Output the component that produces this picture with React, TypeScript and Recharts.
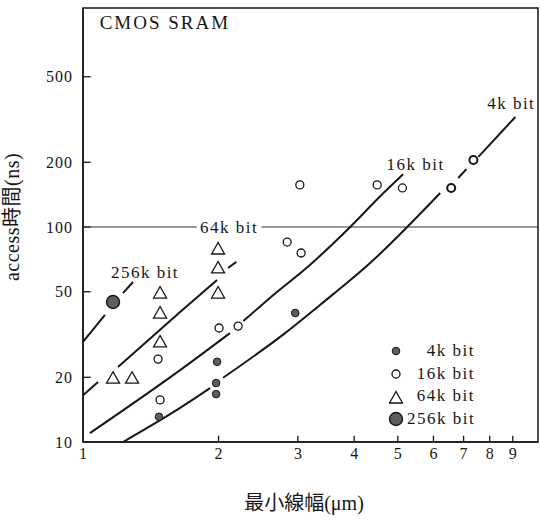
import {
  ComposedChart,
  Line,
  Scatter,
  XAxis,
  YAxis,
  ReferenceLine,
  ReferenceArea,
  ReferenceDot,
} from "recharts"

// axes (log-log): line width in µm, access time in ns
const xTicks = [1, 2, 3, 4, 5, 6, 7, 8, 9]
const yTicks = [10, 20, 50, 100, 200, 500]
const xDomain = [1, 10.24]
const yDomain = [10, 1044]

// measured points
const dots4k = [
  { x: 1.475, y: 13.1 },
  { x: 1.985, y: 23.6 },
  { x: 1.975, y: 18.8 },
  { x: 1.975, y: 16.7 },
  { x: 2.96, y: 39.8 },
]
const circles16k = [
  { x: 1.468, y: 24.3 },
  { x: 1.483, y: 15.7 },
  { x: 2.005, y: 33.9 },
  { x: 2.21, y: 34.6 },
  { x: 2.84, y: 85.1 },
  { x: 3.05, y: 75.7 },
  { x: 3.03, y: 157 },
  { x: 4.5, y: 157 },
  { x: 5.12, y: 152 },
]
// open circles sitting on the 4k trend line
const circles4kOpen = [
  { x: 6.57, y: 152 },
  { x: 7.36, y: 205 },
]
const triangles64k = [
  { x: 1.166, y: 19.8 },
  { x: 1.285, y: 19.8 },
  { x: 1.483, y: 29.2 },
  { x: 1.483, y: 39.8 },
  { x: 1.483, y: 49.3 },
  { x: 1.995, y: 49.3 },
  { x: 1.995, y: 64.5 },
  { x: 1.995, y: 79.0 },
]
const dots256k = [{ x: 1.166, y: 44.8 }]

// hand-drawn trend curves, split where the drawing leaves gaps
const curve4kA = [
  { x: 1.227, y: 10 },
  { x: 1.643, y: 14.4 },
  { x: 1.915, y: 17.8 },
]
const curve4kB = [
  { x: 2.047, y: 19.9 },
  { x: 2.81, y: 32.1 },
  { x: 3.36, y: 43.4 },
  { x: 4.34, y: 68.0 },
  { x: 6.21, y: 144 },
]
const curve4kC = [
  { x: 6.81, y: 169 },
  { x: 7.1, y: 186 },
]
const curve4kD = [
  { x: 7.55, y: 212 },
  { x: 9.12, y: 325 },
]
const curve16kA = [
  { x: 1.036, y: 11.0 },
  { x: 1.643, y: 21.6 },
  { x: 2.12, y: 32.1 },
]
const curve16kB = [
  { x: 2.27, y: 36.5 },
  { x: 2.6, y: 46.8 },
  { x: 3.19, y: 66.6 },
  { x: 3.92, y: 100 },
  { x: 4.57, y: 139 },
  { x: 5.14, y: 176 },
]
const curve64kA = [
  { x: 1.0, y: 16.5 },
  { x: 1.08, y: 19.0 },
]
const curve64kB = [
  { x: 1.196, y: 22.3 },
  { x: 1.643, y: 40.2 },
  { x: 1.985, y: 56.7 },
]
const curve64kC = [
  { x: 2.1, y: 64.5 },
  { x: 2.19, y: 68.8 },
]
const curve256kA = [
  { x: 1.0, y: 29.2 },
  { x: 1.119, y: 39.0 },
]
const curve256kB = [
  { x: 1.227, y: 49.3 },
  { x: 1.291, y: 55.5 },
]

const seriesNames = ["4k bit", "16k bit", "64k bit", "256k bit"]

const curves = [
  curve4kA, curve4kB, curve4kC, curve4kD,
  curve16kA, curve16kB,
  curve64kA, curve64kB, curve64kC,
  curve256kA, curve256kB,
]

const ink = "#161616"
const serif = "'Liberation Serif', 'Noto Sans CJK JP', serif"

function SmallDot({ cx, cy }: any) {
  return <circle cx={cx} cy={cy} r={3.8} fill="#5c5c5c" stroke={ink} strokeWidth={1} />
}

function Ring({ cx, cy, bold }: any) {
  return <circle cx={cx} cy={cy} r={4} fill="#fff" stroke={ink} strokeWidth={bold ? 2 : 1.3} />
}

function Tri({ cx, cy }: any) {
  const pts = `${cx},${cy - 6.5} ${cx - 6.5},${cy + 5} ${cx + 6.5},${cy + 5}`
  return <polygon points={pts} fill="#fff" stroke={ink} strokeWidth={1.3} />
}

function BigDot({ cx, cy }: any) {
  return <circle cx={cx} cy={cy} r={6.5} fill="#5e5e5e" stroke={ink} strokeWidth={1.4} />
}

const XTitle = () => (
  <text x={304} y={503} textAnchor="middle" dominantBaseline="central" fill={ink} fontSize={20} fontFamily={serif}>
    最小線幅(μm)
  </text>
)

const YTitle = () => (
  <text
    x={12}
    y={217}
    transform="rotate(-90 12 217)"
    textAnchor="middle"
    dominantBaseline="central"
    fill={ink}
    fontSize={20}
    letterSpacing={0.5}
    fontFamily={serif}
  >
    access時間(ns)
  </text>
)

const tagStyle = { position: "center", fill: ink, fontSize: 17, fontFamily: serif, letterSpacing: 1.5 }

export default function App() {
  const icons = [
    <SmallDot cx={11} cy={11} />,
    <Ring cx={11} cy={11} />,
    <Tri cx={11} cy={12} />,
    <BigDot cx={11} cy={11} />,
  ]

  return (
    <div style={{ position: "absolute", left: 0, top: 0, width: 540, height: 523, background: "#fff" }}>
      <ComposedChart width={540} height={523} margin={{ top: 8, right: 2, bottom: 0, left: 0 }}>
        <XAxis
          dataKey="x"
          type="number"
          scale="log"
          domain={xDomain}
          allowDataOverflow
          ticks={xTicks}
          interval={0}
          height={81}
          tickSize={0}
          tickMargin={6}
          tickLine={false}
          stroke={ink}
          strokeWidth={1.5}
          tick={{ fill: ink, fontSize: 16, fontFamily: serif }}
          label={<XTitle />}
        />
        <YAxis
          dataKey="y"
          type="number"
          scale="log"
          domain={yDomain}
          allowDataOverflow
          ticks={yTicks}
          interval={0}
          width={83}
          tickSize={0}
          tickMargin={10}
          tickLine={false}
          stroke={ink}
          strokeWidth={1.5}
          tick={{ fill: ink, fontSize: 16, fontFamily: serif, letterSpacing: 1 }}
          label={<YTitle />}
        />

        <ReferenceArea
          x1={xDomain[0]}
          x2={xDomain[1]}
          y1={yDomain[0]}
          y2={yDomain[1]}
          fill="none"
          stroke={ink}
          strokeWidth={1.5}
          ifOverflow="visible"
        />

        {/* inward tick marks */}
        {xTicks.slice(1).map((t) => (
          <ReferenceLine
            key={`xt-${t}`}
            segment={[{ x: t, y: 10 }, { x: t, y: 10.7 }]}
            stroke={ink}
            strokeWidth={1.3}
            ifOverflow="visible"
          />
        ))}
        {yTicks.slice(1).map((t) => (
          <ReferenceLine
            key={`yt-${t}`}
            segment={[{ x: 1, y: t }, { x: 1.04, y: t }]}
            stroke={ink}
            strokeWidth={1.3}
            ifOverflow="visible"
          />
        ))}

        <ReferenceLine
          segment={[{ x: 1, y: 100 }, { x: 1.79, y: 100 }]}
          stroke="#333"
          strokeWidth={1}
          ifOverflow="visible"
        />
        <ReferenceLine
          segment={[{ x: 2.49, y: 100 }, { x: xDomain[1], y: 100 }]}
          stroke="#333"
          strokeWidth={1}
          ifOverflow="visible"
        />

        {curves.map((seg, i) => (
          <Line
            key={`curve-${i}`}
            data={seg}
            dataKey="y"
            type="monotone"
            stroke={ink}
            strokeWidth={2}
            dot={false}
            activeDot={false}
            legendType="none"
            isAnimationActive={false}
          />
        ))}

        <Scatter name="4k bit" data={dots4k} dataKey="y" isAnimationActive={false} shape={(p: any) => <SmallDot cx={p.cx} cy={p.cy} />} />
        <Scatter name="16k bit" data={circles16k} dataKey="y" isAnimationActive={false} shape={(p: any) => <Ring cx={p.cx} cy={p.cy} />} />
        <Scatter data={circles4kOpen} dataKey="y" isAnimationActive={false} shape={(p: any) => <Ring cx={p.cx} cy={p.cy} bold />} />
        <Scatter name="64k bit" data={triangles64k} dataKey="y" isAnimationActive={false} shape={(p: any) => <Tri cx={p.cx} cy={p.cy} />} />
        <Scatter name="256k bit" data={dots256k} dataKey="y" isAnimationActive={false} shape={(p: any) => <BigDot cx={p.cx} cy={p.cy} />} />

        <ReferenceDot x={1.52} y={894} r={0} fill="none" stroke="none"
          label={{ ...tagStyle, value: "CMOS SRAM", fontSize: 19, letterSpacing: 2 }} />
        <ReferenceDot x={1.373} y={62} r={0} fill="none" stroke="none" label={{ ...tagStyle, value: "256k bit" }} />
        <ReferenceDot x={2.11} y={100} r={0} fill="none" stroke="none" label={{ ...tagStyle, value: "64k bit" }} />
        <ReferenceDot x={5.48} y={196} r={0} fill="none" stroke="none" label={{ ...tagStyle, value: "16k bit" }} />
        <ReferenceDot x={8.93} y={377} r={0} fill="none" stroke="none" label={{ ...tagStyle, value: "4k bit" }} />
      </ComposedChart>

      <div style={{ position: "absolute", left: 385, top: 340, fontFamily: serif, fontSize: 17, letterSpacing: 1.5, color: ink }}>
        {seriesNames.map((name, i) => (
          <div key={name} style={{ display: "flex", alignItems: "center", height: 22.7 }}>
            <svg width={22} height={22}>{icons[i]}</svg>
            <span style={{ width: 68, textAlign: "right", lineHeight: "22.7px", whiteSpace: "nowrap" }}>{name}</span>
          </div>
        ))}
      </div>
    </div>
  )
}
